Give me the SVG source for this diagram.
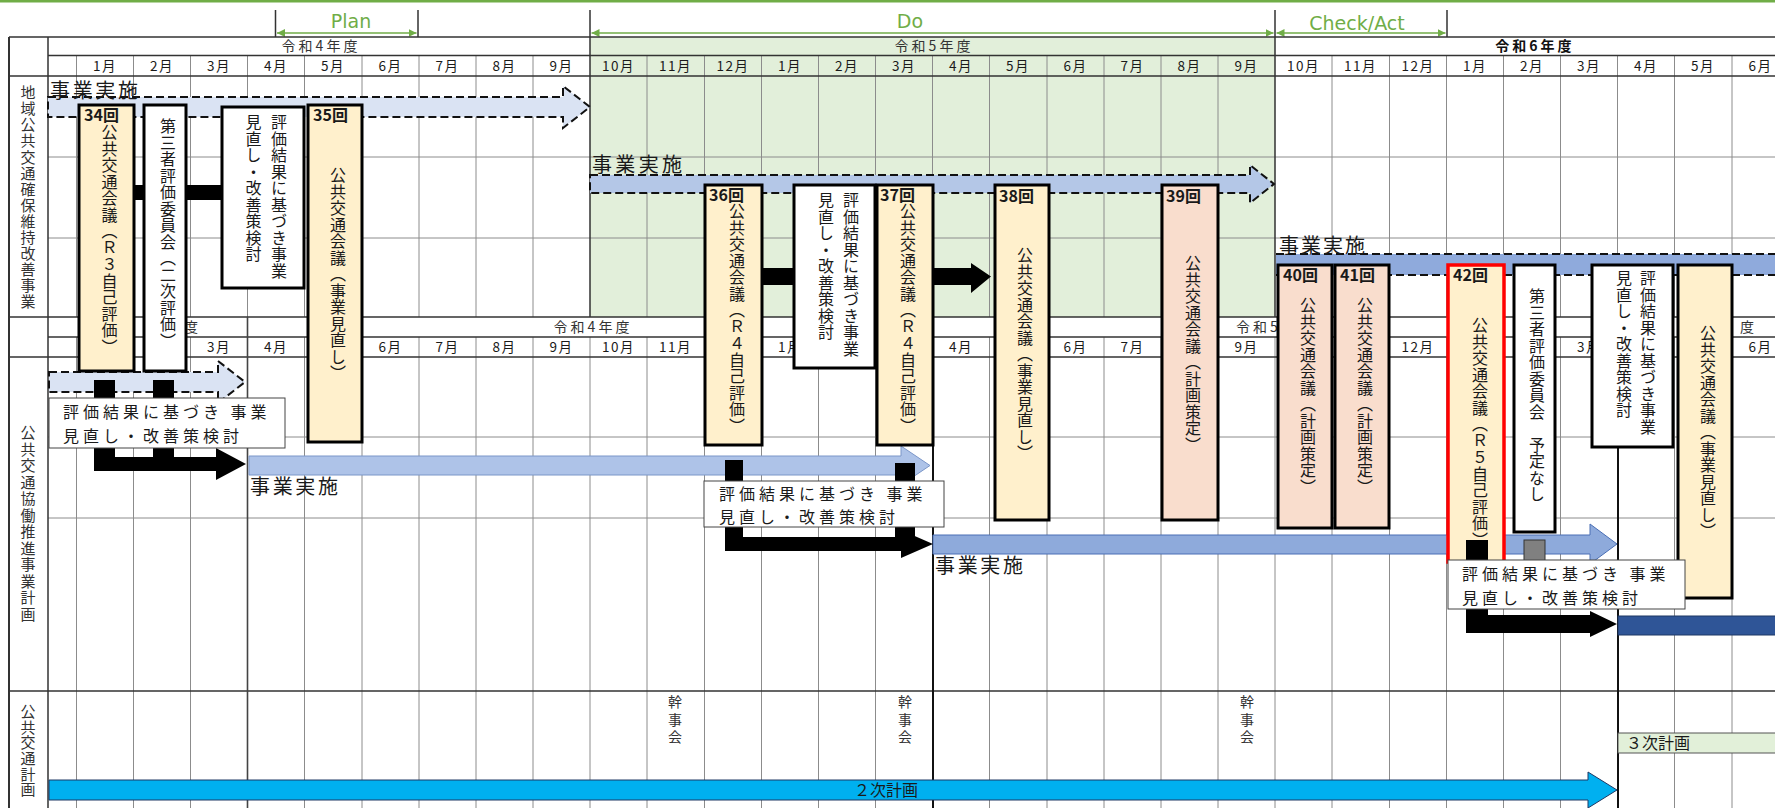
<svg xmlns="http://www.w3.org/2000/svg" width="1775" height="808" viewBox="0 0 1775 808">
<style>
text{font-family:"Noto Sans CJK JP","Noto Sans",sans-serif;fill:#1a1a1a}
.pdca{font-family:"DejaVu Sans",sans-serif;font-size:19px;fill:#70ad47;text-anchor:middle}
.fy{font-size:14px;text-anchor:middle;fill:#333;letter-spacing:3px}
.mo{font-size:13.5px;text-anchor:middle;fill:#333;letter-spacing:1.5px}
.side{font-size:15px;writing-mode:vertical-rl;fill:#333}
.vt{font-size:16px;writing-mode:vertical-rl;letter-spacing:0.5px}
.kj{font-size:14px;writing-mode:vertical-rl;letter-spacing:3.5px;fill:#333}
.num{font-size:16px;font-weight:bold}
.lbl{font-size:16px;letter-spacing:4px}
.jg{font-size:20px}
.grid{stroke:#8c8c8c;stroke-width:1;fill:none}
.major{stroke:#333;stroke-width:1.5;fill:none}
.box{stroke:#000;stroke-width:3}
.cream{fill:#fff0cc}
.pink{fill:#f9ddcd}
.white{fill:#fff}
.dash{stroke:#111;stroke-width:2;stroke-dasharray:8 4}
.lb{fill:#fff;stroke:#444;stroke-width:1}
.blk{fill:#000}
.garr{stroke:#70ad47;stroke-width:1.5;fill:none}
</style>
<defs>
<marker id="gh" viewBox="0 0 8 8" refX="8" refY="4" markerWidth="8" markerHeight="8" markerUnits="userSpaceOnUse" orient="auto-start-reverse">
<path d="M0,0 L8,4 L0,8 Z" fill="#70ad47"/>
</marker>
</defs>

<rect x="0" y="0" width="1775" height="2.5" fill="#70ad47"/>

<!-- PDCA brackets -->
<g id="pdca">
<path class="major" d="M275.5,10V37 M418,10V37 M590,10V37 M1275,10V37 M1447,10V37"/>
<line class="garr" x1="277" y1="33" x2="416.5" y2="33" marker-start="url(#gh)" marker-end="url(#gh)"/>
<line class="garr" x1="591.5" y1="33" x2="1273.5" y2="33" marker-start="url(#gh)" marker-end="url(#gh)"/>
<line class="garr" x1="1276.5" y1="33" x2="1445.5" y2="33" marker-start="url(#gh)" marker-end="url(#gh)"/>
<text class="pdca" x="351" y="28">Plan</text>
<text class="pdca" x="910" y="28">Do</text>
<text class="pdca" x="1357" y="30">Check/Act</text>
</g>

<!-- table grid -->
<g id="grid">
<rect x="590" y="37" width="685" height="280" fill="#e2efda"/>
<path class="grid" d="M76.5,55.5V317 M133.5,55.5V317 M190.5,55.5V317 M247.5,55.5V317 M304.5,55.5V317 M362,55.5V317 M419,55.5V317 M476,55.5V317 M533,55.5V317 M647,55.5V317 M704.5,55.5V317 M761.5,55.5V317 M818.5,55.5V317 M875.5,55.5V317 M932.5,55.5V317 M989.5,55.5V317 M1047,55.5V317 M1104,55.5V317 M1161,55.5V317 M1218,55.5V317 M1332,55.5V317 M1389.5,55.5V317 M1446.5,55.5V317 M1503.5,55.5V317 M1560.5,55.5V317 M1617.5,55.5V317 M1674.5,55.5V317 M1732,55.5V317"/>
<path class="grid" d="M76.5,337V808 M133.5,337V808 M190.5,337V808 M304.5,337V808 M362,337V808 M419,337V808 M476,337V808 M533,337V808 M590,337V808 M647,337V808 M704.5,337V808 M761.5,337V808 M818.5,337V808 M875.5,337V808 M989.5,337V808 M1047,337V808 M1104,337V808 M1161,337V808 M1218,337V808 M1275,337V808 M1332,337V808 M1389.5,337V808 M1446.5,337V808 M1503.5,337V808 M1560.5,337V808 M1674.5,337V808 M1732,337V808"/>
<path class="grid" d="M48,157H1775 M48,238H1775 M48,437H1775 M48,518H1775"/>
<path class="major" d="M9,37H1775 M48,55.5H1775 M9,76H1775 M9,317H1775 M48,337H1775 M9,357H1775 M9,691H1775 M48,37V808 M590,37V317 M1275,37V317"/>
<path d="M9,37V808" stroke="#333" stroke-width="2"/>
<path d="M247.5,317V808" stroke="#444" stroke-width="1.6"/>
<path d="M933,317V808 M1618,317V808" stroke="#111" stroke-width="2"/>
</g>

<!-- header labels -->
<g id="header">
<text class="fy" x="321" y="51">令和4年度</text>
<text class="fy" x="934" y="51">令和5年度</text>
<text class="fy" x="1535" y="51" style="font-weight:bold;fill:#111">令和6年度</text>
<g class="mo">
<text x="105" y="71">1月</text><text x="162" y="71">2月</text><text x="219" y="71">3月</text><text x="276" y="71">4月</text><text x="333" y="71">5月</text><text x="390.5" y="71">6月</text><text x="447.5" y="71">7月</text><text x="504.5" y="71">8月</text><text x="561.5" y="71">9月</text>
<text x="618.5" y="71">10月</text><text x="675.5" y="71">11月</text><text x="733" y="71">12月</text><text x="790" y="71">1月</text><text x="847" y="71">2月</text><text x="904" y="71">3月</text><text x="961" y="71">4月</text><text x="1018" y="71">5月</text><text x="1075.5" y="71">6月</text><text x="1132.5" y="71">7月</text><text x="1189.5" y="71">8月</text><text x="1246.5" y="71">9月</text>
<text x="1303.5" y="71">10月</text><text x="1360.5" y="71">11月</text><text x="1418" y="71">12月</text><text x="1475" y="71">1月</text><text x="1532" y="71">2月</text><text x="1589" y="71">3月</text><text x="1646" y="71">4月</text><text x="1703" y="71">5月</text><text x="1760.5" y="71">6月</text>
</g>
<text x="184" y="332" style="font-size:14px;fill:#333">度</text>
<text class="fy" x="593" y="332">令和4年度</text>
<text x="1236" y="332" style="font-size:14px;fill:#333;letter-spacing:3px">令和5</text>
<text x="1740" y="332" style="font-size:14px;fill:#333">度</text>
<g class="mo">
<text x="219" y="352">3月</text><text x="276" y="352">4月</text><text x="390.5" y="352">6月</text><text x="447.5" y="352">7月</text><text x="504.5" y="352">8月</text><text x="561.5" y="352">9月</text>
<text x="618.5" y="352">10月</text><text x="675.5" y="352">11月</text><text x="790" y="352">1月</text><text x="961" y="352">4月</text><text x="1075.5" y="352">6月</text><text x="1132.5" y="352">7月</text><text x="1246.5" y="352">9月</text>
<text x="1418" y="352">12月</text><text x="1589" y="352">3月</text><text x="1760.5" y="352">6月</text>
</g>
<text class="side" x="28" y="85" style="letter-spacing:1.1px">地域公共交通確保維持改善事業</text>
<text class="side" x="28" y="425" style="letter-spacing:1.5px">公共交通協働推進事業計画</text>
<text class="side" x="28" y="704" style="letter-spacing:0.6px">公共交通計画</text>
</g>

<!-- connectors / bars -->
<g id="connectors">
<path class="dash" d="M48,97H563V86L590,107L563,128V117H48Z" fill="#dae3f3"/>
<path class="dash" d="M590,175H1250V165L1274,184L1250,203V193H590Z" fill="#b4c7e7"/>
<rect x="1276" y="254" width="500" height="21" fill="#8faadc"/>
<path class="dash" d="M1276,254H1775 M1276,275H1775" fill="none"/>
<path class="dash" d="M49,372H218V361L245,382L218,403V392H49Z" fill="#dae3f3"/>
<path d="M249,456H901V446L930,465.5L901,485V475H249Z" fill="#aec3e8" stroke="#7b96c8" stroke-width="1"/>
<path d="M933,535H1590V524L1617,544L1590,564V554H933Z" fill="#8eaadb" stroke="#4a6fb5" stroke-width="1"/>
<rect x="1618" y="616" width="160" height="19" fill="#2f5597" stroke="#1f3864" stroke-width="1"/>
<path d="M49,780H1588V772L1617,790L1588,808V800H49Z" fill="#00b0f0" stroke="#1f3864" stroke-width="1"/>
<rect x="1618" y="733" width="160" height="20" fill="#e2f0d9" stroke="#555" stroke-width="1"/>
<rect class="blk" x="134" y="185" width="88" height="15"/>
<rect class="blk" x="762" y="268" width="32" height="17"/>
<path class="blk" d="M933,268H971V263L991,276.5L971,293V285H933Z"/>
<path class="blk" d="M94,380H115V457H153V380H174V457H216V448L246,464L216,480V471H94Z"/>
<rect class="blk" x="725" y="460" width="18" height="85"/>
<rect class="blk" x="895" y="463" width="20" height="80"/>
<path class="blk" d="M725,537H901V530L933,544L901,558V551H725Z"/>
<rect class="blk" x="1466" y="590" width="22" height="43"/>
<path class="blk" d="M1466,615H1590V611L1617,624L1590,637V633H1466Z"/>
<text class="jg" x="50" y="98" textLength="88">事業実施</text>
<text class="jg" x="592" y="172" textLength="90">事業実施</text>
<text class="jg" x="1279" y="253" textLength="86">事業実施</text>
<text class="jg" x="250" y="494" textLength="88">事業実施</text>
<text class="jg" x="935" y="573" textLength="88">事業実施</text>
<text x="886" y="796" style="font-size:16px;text-anchor:middle">２次計画</text>
<text x="1626" y="749" style="font-size:16px">３次計画</text>
<text class="kj" x="675" y="695">幹事会</text>
<text class="kj" x="905" y="695">幹事会</text>
<text class="kj" x="1247" y="695">幹事会</text>
</g>

<!-- nodes -->
<g id="n34"><rect class="box cream" x="79" y="105" width="55" height="266"/><text class="num" x="84" y="121">34回</text><text class="vt" x="109.5" y="124">公共交通会議（Ｒ３自己評価）</text></g>
<g id="n3rd1"><rect class="box white" x="144" y="105" width="42" height="266"/><text class="vt" x="168" y="118">第三者評価委員会（二次評価）</text></g>
<g id="nEval1"><rect class="box white" x="222" y="107" width="82" height="181"/><text class="vt" x="279" y="114">評価結果に基づき事業</text><text class="vt" x="253.5" y="114">見直し・改善策検討</text></g>
<g id="n35"><rect class="box cream" x="308" y="105" width="54" height="337"/><text class="num" x="313" y="121">35回</text><text class="vt" x="338" y="167">公共交通会議（事業見直し）</text></g>
<g id="n36"><rect class="box cream" x="705" y="185" width="57" height="260"/><text class="num" x="709" y="201">36回</text><text class="vt" x="737" y="203">公共交通会議（Ｒ４自己評価）</text></g>
<g id="nEval2"><rect class="box white" x="794" y="185" width="81" height="183"/><text class="vt" x="851" y="192">評価結果に基づき事業</text><text class="vt" x="826" y="192">見直し・改善策検討</text></g>
<g id="n37"><rect class="box cream" x="877" y="185" width="56" height="260"/><text class="num" x="880" y="201">37回</text><text class="vt" x="908" y="203">公共交通会議（Ｒ４自己評価）</text></g>
<g id="n38"><rect class="box cream" x="995" y="185" width="54" height="335"/><text class="num" x="999" y="202">38回</text><text class="vt" x="1025" y="247">公共交通会議（事業見直し）</text></g>
<g id="n39"><rect class="box pink" x="1162" y="185" width="56" height="335"/><text class="num" x="1166" y="202">39回</text><text class="vt" x="1193" y="255">公共交通会議（計画策定）</text></g>
<g id="n40"><rect class="box pink" x="1278" y="265" width="54" height="263"/><text class="num" x="1283" y="281">40回</text><text class="vt" x="1308" y="297">公共交通会議（計画策定）</text></g>
<g id="n41"><rect class="box pink" x="1335" y="265" width="54" height="263"/><text class="num" x="1340" y="281">41回</text><text class="vt" x="1365" y="297">公共交通会議（計画策定）</text></g>
<g id="n42"><rect class="cream" x="1448" y="265" width="56" height="297" stroke="#ff0000" stroke-width="3.5"/><text class="num" x="1453" y="281">42回</text><text class="vt" x="1480" y="317">公共交通会議（Ｒ５自己評価）</text></g>
<g id="n3rd2"><rect class="box white" x="1514" y="265" width="41" height="267"/><text class="vt" x="1537" y="288">第三者評価委員会　予定なし</text></g>
<g id="nEval3"><rect class="box white" x="1592" y="265" width="81" height="182"/><text class="vt" x="1648" y="270">評価結果に基づき事業</text><text class="vt" x="1624" y="270">見直し・改善策検討</text></g>
<g id="nRev"><rect class="box cream" x="1678" y="265" width="54" height="333"/><text class="vt" x="1708" y="325">公共交通会議（事業見直し）</text></g>

<!-- small squares over boxes -->
<g id="marks">
<rect x="1466" y="540" width="22" height="22" fill="#000"/>
<rect x="1524" y="540" width="21" height="22" fill="#808080" stroke="#333" stroke-width="1"/>
</g>

<!-- label boxes -->
<g id="lab1"><rect class="lb" x="49" y="398" width="236" height="50"/><text class="lbl" x="63" y="418">評価結果に基づき 事業</text><text class="lbl" x="63" y="441.5">見直し・改善策検討</text></g>
<g id="lab2"><rect class="lb" x="704" y="481" width="240" height="46"/><text class="lbl" x="719" y="499.5">評価結果に基づき 事業</text><text class="lbl" x="719" y="523">見直し・改善策検討</text></g>
<g id="lab3"><rect class="lb" x="1448" y="560" width="237" height="49"/><text class="lbl" x="1462" y="580">評価結果に基づき 事業</text><text class="lbl" x="1462" y="603.5">見直し・改善策検討</text></g>
</svg>
